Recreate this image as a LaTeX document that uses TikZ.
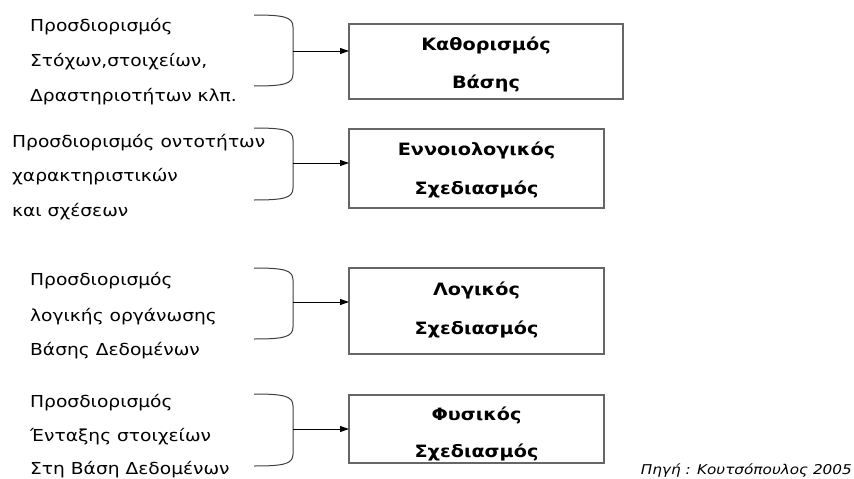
\documentclass[tikz,border=0pt]{standalone}
\usepackage{fontspec}
\setmainfont{DejaVu Sans}[FakeStretch=1.13]
\usetikzlibrary{arrows.meta}
\begin{document}
\begin{tikzpicture}[x=1pt,y=-1pt,
  lefttext/.style={anchor=base west,inner sep=0pt,font=\fontsize{16.5}{18}\selectfont},
  boxtext/.style={anchor=base,inner sep=0pt,font=\fontsize{17}{19}\selectfont\bfseries},
  stagebox/.style={draw=black!60,line width=1.3pt},
  brace/.style={draw=black!75,line width=1pt},
  conn/.style={draw=black,line width=0.9pt,-{Triangle[length=9pt,width=6pt]}}]
\useasboundingbox (0,0) rectangle (854,479);
\fill[white] (0,0) rectangle (854,479);

% boxes
\draw[stagebox] (349,24) rectangle (623,99);
\coordinate (b1w) at (349,24);
\draw[stagebox] (349,129) rectangle (604,208);
\coordinate (b2w) at (349,129);
\draw[stagebox] (349,268) rectangle (604,354);
\coordinate (b3w) at (349,268);
\draw[stagebox] (349,395) rectangle (604,463);
\coordinate (b4w) at (349,395);

% box texts
\node[boxtext] (k1) at (486,50) {Καθορισμός};
\node[boxtext] (k2) at (486,88.3) {Βάσης};
\node[boxtext] (e1) at (476.5,155) {Εννοιολογικός};
\node[boxtext] (e2) at (476.5,194) {Σχεδιασμός};
\node[boxtext] (l1) at (476.5,295) {Λογικός};
\node[boxtext] (l2) at (476.5,334) {Σχεδιασμός};
\node[boxtext] (f1) at (476.5,420) {Φυσικός};
\node[boxtext] (f2) at (476.5,457.5) {Σχεδιασμός};

% braces
\foreach \t/\b/\n in {15/86/1, 128/200/2, 268/339/3, 394/466/4}{
  \draw[brace] (254,\t) .. controls (284,\t) and (293,\t+2) .. (293,\t+12)
     -- (293,\b-12) .. controls (293,\b-2) and (284,\b) .. (254,\b);
}
\coordinate (t1) at (293,51);
\coordinate (t2) at (293,163);
\coordinate (t3) at (293,302);
\coordinate (t4) at (293,429);
\draw[conn] (t1) -- (t1 -| b1w);
\draw[conn] (t2) -- (t2 -| b2w);
\draw[conn] (t3) -- (t3 -| b3w);
\draw[conn] (t4) -- (t4 -| b4w);

% left texts
\node[lefttext] (a1) at (30,31.7) {Προσδιορισμός};
\node[lefttext] (a2) at (30,66.7) {Στόχων,στοιχείων,};
\node[lefttext] (a3) at (30,101.7) {Δραστηριοτήτων κλπ.};
\node[lefttext] (c1) at (12,147.7) {Προσδιορισμός οντοτήτων};
\node[lefttext] (c2) at (12,181.7) {χαρακτηριστικών};
\node[lefttext] (c3) at (12,216.7) {και σχέσεων};
\node[lefttext] (d1) at (30,285) {Προσδιορισμός};
\node[lefttext] (d2) at (30,321.7) {λογικής οργάνωσης};
\node[lefttext] (d3) at (30,355) {Βάσης Δεδομένων};
\node[lefttext] (g1) at (30,407.3) {Προσδιορισμός};
\node[lefttext] (g2) at (30,441.7) {Ένταξης στοιχείων};
\node[lefttext] (g3) at (30,474.5) {Στη Βάση Δεδομένων};

% source
\node[anchor=base east,inner sep=0pt,font=\fontsize{13.5}{15}\selectfont\itshape] (src) at (852,474) {Πηγή : Κουτσόπουλος 2005};
\end{tikzpicture}
\end{document}
